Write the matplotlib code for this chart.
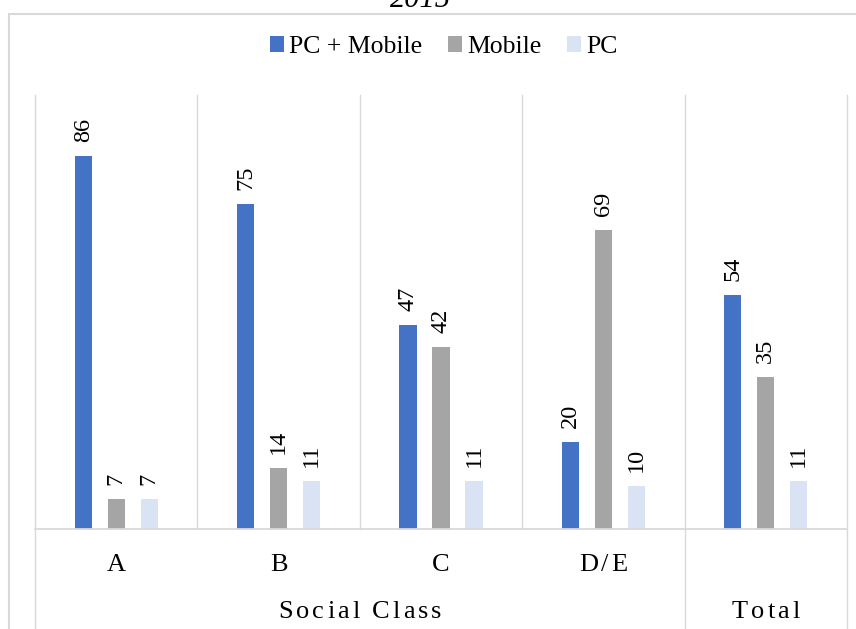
import matplotlib
matplotlib.use('Agg')
import matplotlib.pyplot as plt
from matplotlib.patches import Rectangle
from matplotlib.font_manager import FontProperties, findfont, get_font
import matplotlib.transforms as mtrans
import numpy as np

# ---- data ----
categories = ['A', 'B', 'C', 'D/E', 'Total']
pc_mobile = [86, 75, 47, 20, 54]
mobile = [7, 14, 42, 69, 35]
pc = [7, 11, 11, 10, 11]
series_names = ['PC + Mobile', 'Mobile', 'PC']
group_labels = ['Social Class', 'Total']
group_spans = [(0, 3), (4, 4)]
title = '2015'

# ---- style ----
colors = ['#4472C4', '#A5A5A5', '#DAE3F3']
gc = '#D9D9D9'
W, H = 856, 629
FAM = ['Liberation Serif', 'DejaVu Serif']
plt.rcParams['font.family'] = FAM

fig = plt.figure(figsize=(W / 100, H / 100), dpi=100)
L, R, T, B = 35, 847, 95, 529
ax = fig.add_axes([L / W, 1 - B / H, (R - L) / W, (B - T) / H])
n = len(categories)
ax.set_xlim(-0.5, n - 0.5)
ax.set_ylim(0, 100)
ax.axis('off')

x = np.arange(n)
offs = [-0.203, 0.0, 0.203]
bw = 0.106
for vals, off, c, name in zip([pc_mobile, mobile, pc], offs, colors, series_names):
    ax.bar(x + off, vals, bw, color=c, label=name, zorder=3)
    for xi, v in zip(x + off, vals):
        ax.annotate(str(v), (xi, v), xytext=(0, 10), textcoords='offset points',
                    rotation=90, ha='center', va='bottom', fontsize=17.5,
                    color='black')

# separators
bt = mtrans.blended_transform_factory(ax.transData, ax.transAxes)
ext = -(H - B + 5) / (B - T)
long_lines = {-0.5, 3.5, n - 0.5}
for xv in np.arange(-0.5, n, 1.0):
    y0 = ext if xv in long_lines else 0
    ax.plot([xv, xv], [y0, 1], transform=bt, color=gc, lw=1.0, clip_on=False, zorder=1)
ax.plot([-0.5, n - 0.5], [0, 0], transform=bt, color=gc, lw=1.3, clip_on=False, zorder=4)

# legend
fig.legend(loc='center', bbox_to_anchor=(444 / W, 1 - 47 / H), ncol=3, frameon=False,
           fontsize=18.5, handlelength=0.55, handleheight=0.55, handletextpad=0.2,
           columnspacing=1.0, borderpad=0, borderaxespad=0)

# title (cut off at top, as in the reference)
fig.text(420 / W, 1 - 7 / H, title, ha='center', va='baseline', fontsize=22,
         style='italic')

# outer frame
fig.add_artist(Rectangle((9 / W, -0.5), 2, (1 - 14 / H) + 0.5, transform=fig.transFigure,
                         fill=False, ec=gc, lw=1.5))

# letter-spaced axis labels
def tracked(s, cx, base_from_top, size, track):
    fp = FontProperties(family=FAM, size=size)
    font = get_font(findfont(fp))
    font.set_size(size, 100)
    advs = []
    for ch in s:
        g = font.load_char(ord(ch))
        advs.append(g.linearHoriAdvance / 65536)
    total = sum(advs) + track * (len(s) - 1)
    pos = cx - total / 2
    for ch, a in zip(s, advs):
        if ch != ' ':
            fig.text(pos / W, 1 - base_from_top / H, ch, ha='left', va='baseline',
                     fontproperties=fp, color='black')
        pos += a + track

for i, cat in enumerate(categories[:4]):
    cx = ax.transData.transform((i, 0))[0]
    tracked(cat, cx, 571, 19, 3)

for lab, (a, b) in zip(group_labels, group_spans):
    cx = ax.transData.transform(((a + b) / 2, 0))[0]
    tracked(lab, cx, 618, 19, 3)

fig.savefig('out.png', dpi=100)
